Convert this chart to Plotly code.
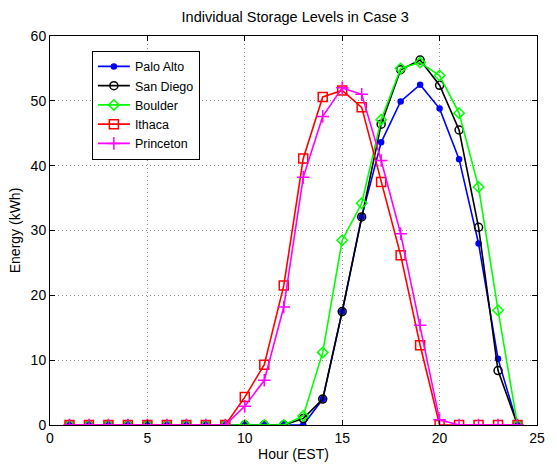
import plotly.graph_objects as go

hours = list(range(1, 25))
palo_alto = [0,0,0,0,0,0,0,0,0,0,0,0,0,4.0,17.5,32.1,43.6,49.9,52.5,48.8,41.0,28.0,10.2,0]
san_diego = [0,0,0,0,0,0,0,0,0,0,0,0,1.0,4.0,17.5,32.1,46.4,54.8,56.3,52.4,45.5,30.5,8.4,0]
boulder   = [0,0,0,0,0,0,0,0,0,0,0,0,1.4,11.2,28.5,34.2,47.1,55.0,55.9,53.9,48.1,36.7,17.7,0]
ithaca    = [0,0,0,0,0,0,0,0,0,4.3,9.3,21.5,41.1,50.6,51.6,49.0,37.5,26.2,12.3,0,0,0,0,0]
princeton = [0,0,0,0,0,0,0,0,0,2.9,6.9,18.2,38.2,47.6,52.0,51.0,40.8,29.5,15.4,0.8,0,0,0,0]

x_ticks = [0, 5, 10, 15, 20, 25]
y_ticks = [0, 10, 20, 30, 40, 50, 60]

series = [
    ("Palo Alto", palo_alto, "#0000FF", "circle", 5),
    ("San Diego", san_diego, "#000000", "circle-open", 8),
    ("Boulder", boulder, "#00FF00", "diamond-open", 8),
    ("Ithaca", ithaca, "#FF0000", "square-open", 9),
    ("Princeton", princeton, "#FF00FF", "cross-thin-open", 9),
]

fig = go.Figure()
for name, vals, color, sym, size in series:
    fig.add_trace(go.Scatter(
        x=hours, y=vals, name=name, mode="lines+markers",
        line=dict(color=color, width=1.6),
        marker=dict(symbol=sym, size=size, color=color,
                    line=dict(color=color, width=1.5)),
    ))

font = "Liberation Sans, Arial, Helvetica, sans-serif"
axis_common = dict(
    showline=True, linecolor="black", linewidth=1, mirror="allticks",
    ticks="inside", ticklen=5, tickcolor="black",
    showgrid=True, gridcolor="#8c8c8c", griddash="1px,3px", gridwidth=1,
    zeroline=False, automargin=False,
    tickfont=dict(size=14, color="black", family=font),
)

fig.update_layout(
    width=557, height=464,
    margin=dict(l=50, r=20, t=36, b=39),
    paper_bgcolor="white", plot_bgcolor="white",
    font=dict(family=font, color="black"),
    title=dict(text="Individual Storage Levels in Case 3", x=0.53, xanchor="center",
               y=0.963, yanchor="middle", automargin=False,
               font=dict(size=14.5, color="black", family=font)),
    xaxis=dict(range=[0, 25], tickvals=x_ticks,
               title=dict(text="Hour (EST)", font=dict(size=14), standoff=4), **axis_common),
    yaxis=dict(range=[0, 60], tickvals=y_ticks,
               title=dict(text="Energy (kWh)", font=dict(size=14), standoff=6), **axis_common),
    legend=dict(x=0.086, y=0.962, xanchor="left", yanchor="top",
                bgcolor="white", bordercolor="black", borderwidth=1,
                font=dict(size=12.5, color="black", family=font),
                tracegroupgap=0, itemwidth=32),
    showlegend=True,
)

fig.write_html("out.html", config={"displayModeBar": False},
               post_script="document.body.style.margin='0';document.body.style.padding='0';")
